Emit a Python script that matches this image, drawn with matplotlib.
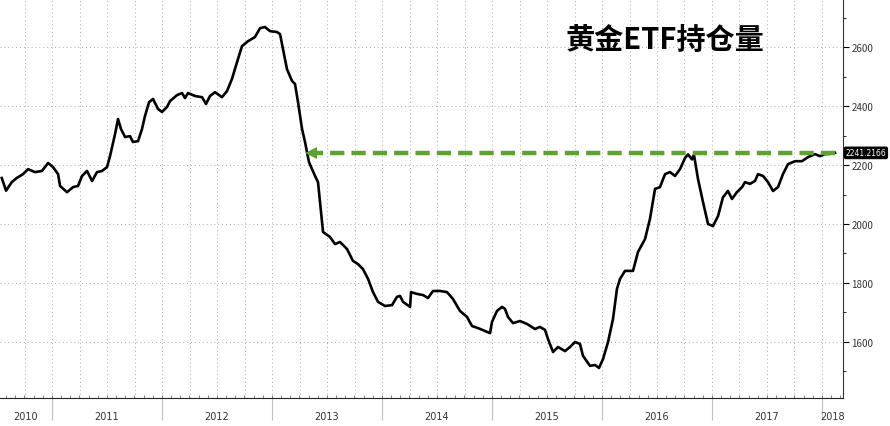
import matplotlib.pyplot as plt
import matplotlib.transforms as mtransforms
import numpy as np

plt.rcParams['font.family'] = ['Noto Sans CJK SC', 'DejaVu Sans']

# --- data: gold ETF holdings (tonnes), dates as fractional years ---
dates = [2010.543, 2010.582, 2010.634, 2010.679, 2010.736, 2010.782, 2010.845, 2010.909,
         2010.964, 2011.009, 2011.055, 2011.073, 2011.136, 2011.191, 2011.236, 2011.273,
         2011.318, 2011.364, 2011.409, 2011.455, 2011.5, 2011.527, 2011.573, 2011.6,
         2011.627, 2011.664, 2011.709, 2011.736, 2011.782, 2011.818, 2011.845, 2011.882,
         2011.918, 2011.964, 2012.0, 2012.045, 2012.073, 2012.136, 2012.182, 2012.209,
         2012.236, 2012.3, 2012.364, 2012.4, 2012.436, 2012.482, 2012.545, 2012.591,
         2012.636, 2012.682, 2012.727, 2012.782, 2012.845, 2012.891, 2012.936, 2012.982,
         2013.045, 2013.073, 2013.1, 2013.136, 2013.182, 2013.209, 2013.236, 2013.273,
         2013.3, 2013.336, 2013.391, 2013.418, 2013.436, 2013.455, 2013.464, 2013.527,
         2013.573, 2013.618, 2013.682, 2013.736, 2013.782, 2013.827, 2013.873, 2013.918,
         2013.964, 2014.027, 2014.091, 2014.136, 2014.164, 2014.191, 2014.255, 2014.264,
         2014.318, 2014.373, 2014.418, 2014.464, 2014.527, 2014.591, 2014.645, 2014.709,
         2014.773, 2014.818, 2014.873, 2014.936, 2014.982, 2015.0, 2015.045, 2015.091,
         2015.118, 2015.145, 2015.191, 2015.255, 2015.318, 2015.391, 2015.436, 2015.482,
         2015.509, 2015.555, 2015.6, 2015.664, 2015.709, 2015.755, 2015.8, 2015.827,
         2015.891, 2015.936, 2015.973, 2016.009, 2016.055, 2016.1, 2016.136, 2016.164,
         2016.209, 2016.282, 2016.327, 2016.391, 2016.436, 2016.482, 2016.527, 2016.573,
         2016.618, 2016.664, 2016.709, 2016.755, 2016.782, 2016.818, 2016.836, 2016.873,
         2016.918, 2016.964, 2017.009, 2017.055, 2017.1, 2017.145, 2017.182, 2017.227,
         2017.273, 2017.3, 2017.345, 2017.391, 2017.418, 2017.464, 2017.509, 2017.555,
         2017.6, 2017.645, 2017.691, 2017.755, 2017.818, 2017.873, 2017.936, 2017.982,
         2018.027, 2018.073, 2018.118]
holdings = [2156, 2113, 2142, 2156, 2169, 2186, 2176, 2180,
            2207, 2193, 2169, 2129, 2108, 2125, 2129, 2163,
            2180, 2146, 2176, 2180, 2193, 2230, 2305, 2356,
            2322, 2295, 2298, 2278, 2281, 2322, 2366, 2413,
            2424, 2390, 2380, 2397, 2417, 2437, 2444, 2427,
            2444, 2434, 2430, 2407, 2434, 2447, 2430, 2451,
            2492, 2549, 2603, 2620, 2634, 2664, 2668, 2654,
            2651, 2644, 2593, 2525, 2485, 2475, 2414, 2322,
            2278, 2210, 2163, 2142, 2075, 2007, 1973, 1956,
            1932, 1939, 1915, 1875, 1864, 1847, 1814, 1769,
            1736, 1722, 1725, 1753, 1756, 1736, 1719, 1769,
            1763, 1759, 1749, 1773, 1773, 1769, 1746, 1705,
            1685, 1654, 1647, 1637, 1630, 1668, 1705, 1719,
            1712, 1685, 1664, 1671, 1661, 1644, 1651, 1641,
            1610, 1566, 1583, 1569, 1583, 1600, 1593, 1553,
            1519, 1522, 1512, 1542, 1600, 1678, 1780, 1814,
            1841, 1841, 1905, 1949, 2017, 2119, 2125, 2169,
            2176, 2163, 2186, 2224, 2236, 2219, 2235, 2152,
            2075, 2000, 1993, 2027, 2091, 2112, 2085, 2108,
            2125, 2142, 2136, 2146, 2169, 2163, 2142, 2112,
            2125, 2169, 2203, 2213, 2213, 2227, 2237, 2230,
            2237, 2238, 2241.2166]

last_label = "2241.2166"
title = "黄金ETF持仓量"
years = [2010, 2011, 2012, 2013, 2014, 2015, 2016, 2017, 2018]
y_ticks = [1600, 1800, 2000, 2200, 2400, 2600]
arrow_end_x = 2013.35

x_min, x_max = 2010.527, 2018.191
y_min, y_max = 1410, 2763

fig = plt.figure(figsize=(8.9, 4.27), dpi=100)
ax = fig.add_axes([0.0, 1 - 399 / 427, 843 / 890, 399 / 427])

ax.plot(dates, holdings, color='black', lw=1.9, zorder=3)

# green dashed arrow back to 2013 level
ax.plot([dates[-1], arrow_end_x + 0.06], [holdings[-1], holdings[-1]],
        color='#5da22e', lw=3.2, dashes=(3.2, 1.6), zorder=4, solid_capstyle='butt')
ax.plot([arrow_end_x], [holdings[-1]], marker='<', color='#5da22e',
        markersize=9, zorder=4, markeredgewidth=0)

ax.set_xlim(x_min, x_max)
ax.set_ylim(y_min, y_max)

# y axis on the right
ax.yaxis.tick_right()
ax.set_yticks(y_ticks)
ax.set_yticks(np.arange(1500, 2800, 100), minor=True)
ax.tick_params(axis='y', which='major', direction='out', length=4, width=0.8,
               labelsize=7, labelcolor='#333333', pad=2)
ax.tick_params(axis='y', which='minor', direction='out', length=2, width=0.6)

# x axis: year separators, monthly minor ticks
ax.set_xticks(years[1:])
ax.set_xticklabels([])
ax.set_xticks(np.arange(2010.583, 2018.19, 1 / 12), minor=True)
ax.tick_params(axis='x', which='major', direction='out', length=16, width=0.8,
               color='#c0c0c0')
ax.tick_params(axis='x', which='minor', direction='in', length=2, width=0.6,
               color='#666666')

trans = mtransforms.blended_transform_factory(ax.transData, ax.transAxes)
for yr in years:
    lo, hi = max(yr, x_min), min(yr + 1, x_max)
    ax.text((lo + hi) / 2, -0.045, str(yr), transform=trans, ha='center', va='center',
            fontsize=7, color='#333333', family='DejaVu Sans')

# dotted grid
for q in np.arange(2010.75, 2018.19, 0.25):
    ax.axvline(q, color='#aaaaaa', lw=0.7, ls=(0, (1, 3)), zorder=1)
for v in [1400] + y_ticks:
    ax.axhline(v, color='#aaaaaa', lw=0.7, ls=(0, (1, 3)), zorder=1)

for side in ['left', 'top']:
    ax.spines[side].set_visible(False)
ax.spines['right'].set_color('#333333')
ax.spines['bottom'].set_color('#222222')

# last value tag
tag_trans = mtransforms.blended_transform_factory(ax.transAxes, ax.transData)
ax.annotate(last_label, xy=(1.0, holdings[-1]), xycoords=tag_trans,
            xytext=(1.8, 0), textcoords='offset points', ha='left', va='center',
            fontsize=5.5, color='white', family='DejaVu Sans',
            bbox=dict(boxstyle='round,pad=0.15,rounding_size=0.2', fc='black', ec='black'),
            annotation_clip=False)

fig.text(665 / 890, 1 - 40 / 427, title, ha='center', va='center',
         fontsize=21, fontweight='bold', color='black')

fig.savefig('out.png', dpi=100)
